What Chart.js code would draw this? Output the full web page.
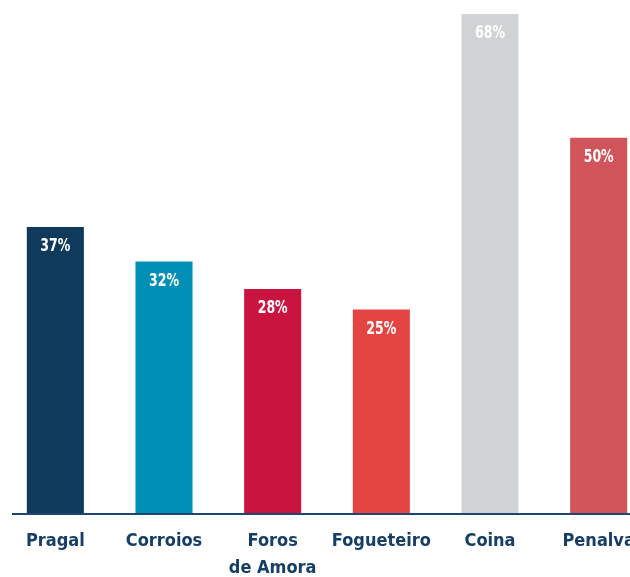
<!DOCTYPE html>
<html>
<head>
<meta charset="utf-8">
<script src="https://cdn.jsdelivr.net/npm/chart.js@4/dist/chart.umd.min.js"></script>
<style>
  html, body { margin: 0; padding: 0; background: #fff; }
  #wrap { width: 630px; height: 577px; overflow: hidden; position: relative; }
  #chart { display: block; }
</style>
</head>
<body>
<div id="wrap"><canvas id="chart" width="655" height="577"></canvas></div>
<script>
// Data
const categories = [["Pragal"], ["Corroios"], ["Foros", "de Amora"], ["Fogueteiro"], ["Coina"], ["Penalva"]];
const values = [37, 32, 28, 25, 68, 50];
const barColors = ["#0f3a5c", "#008fb4", "#c8143f", "#e34542", "#d1d2d4", "#cf555a"];

const FONT = "'DejaVu Sans Condensed', 'DejaVu Sans', sans-serif";
const NAVY = "#173e63";
const AXIS_MIN = -4.6;

// white % labels inside the bar tops (narrowed a bit, the original font is condensed)
const valueLabels = {
  id: "valueLabels",
  afterDatasetsDraw(chart) {
    const ctx = chart.ctx;
    const meta = chart.getDatasetMeta(0);
    meta.data.forEach((bar, i) => {
      ctx.save();
      ctx.translate(bar.x, bar.y + 20);
      ctx.scale(0.82, 1);
      ctx.fillStyle = "#ffffff";
      ctx.font = "bold 17px " + FONT;
      ctx.textAlign = "center";
      ctx.textBaseline = "middle";
      ctx.fillText(values[i] + "%", 0, 0);
      ctx.restore();
    });
  }
};

// baseline under the bars
const baseLine = {
  id: "baseLine",
  afterDatasetsDraw(chart) {
    const ctx = chart.ctx;
    const y = chart.scales.y.getPixelForValue(AXIS_MIN);
    ctx.save();
    ctx.strokeStyle = "#1e4670";
    ctx.lineWidth = 2;
    ctx.beginPath();
    ctx.moveTo(chart.chartArea.left + 11, y + 1);
    ctx.lineTo(chart.width, y + 1);
    ctx.stroke();
    ctx.restore();
  }
};

new Chart(document.getElementById("chart").getContext("2d"), {
  type: "bar",
  data: {
    labels: categories,
    datasets: [{
      data: values,
      backgroundColor: barColors,
      base: AXIS_MIN,
      categoryPercentage: 1,
      barPercentage: 0.525,
      borderWidth: 0
    }]
  },
  options: {
    responsive: false,
    animation: false,
    layout: { padding: { top: 14, left: 1, right: 2, bottom: 0 } },
    plugins: { legend: { display: false }, tooltip: { enabled: false } },
    scales: {
      x: {
        grid: { display: false, drawTicks: false },
        border: { display: false },
        afterFit: s => { s.height = 64; },
        ticks: {
          color: NAVY,
          padding: 15,
          maxRotation: 0,
          autoSkip: false,
          font: { family: FONT, size: 18, weight: "bold", lineHeight: 1.5 }
        }
      },
      y: {
        display: false,
        min: AXIS_MIN,
        max: 68
      }
    }
  },
  plugins: [valueLabels, baseLine]
});
</script>
</body>
</html>
